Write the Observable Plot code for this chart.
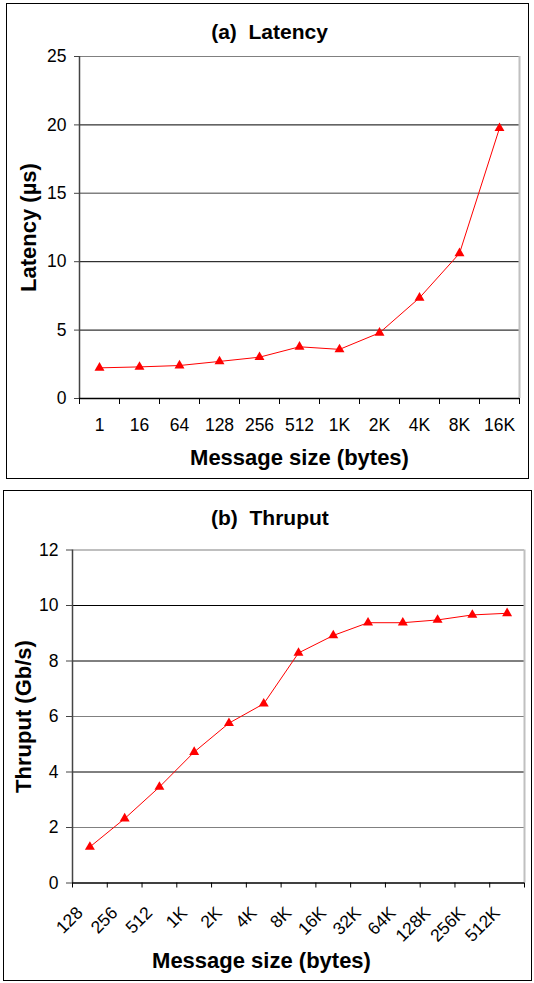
<!DOCTYPE html>
<html><head><meta charset="utf-8">
<script src="https://cdn.jsdelivr.net/npm/d3@7"></script>
<script src="https://cdn.jsdelivr.net/npm/@observablehq/plot@0.6"></script>
<style>
html,body{margin:0;padding:0;background:#fff;}
#page{position:relative;width:534px;height:983px;overflow:hidden;}
.box{position:absolute;border:1.5px solid #000;box-sizing:border-box;}
.panel{position:absolute;left:0;}
</style></head><body><div id="page">
<div class="box" style="left:6px;top:3px;width:523px;height:476px"></div>
<div class="box" style="left:3px;top:490px;width:529px;height:491px"></div>
<div class="panel" id="a" style="top:0px"></div>
<div class="panel" id="b" style="top:485px"></div>
</div>
<script>
// ---- data ----
const latencySizes = ["1","16","64","128","256","512","1K","2K","4K","8K","16K"];
const latencyValues = [2.24,2.31,2.41,2.71,3.02,3.78,3.59,4.8,7.36,10.61,19.76];
const latencyTicks = [0,5,10,15,20,25];

const thruputSizes = ["128","256","512","1K","2K","4K","8K","16K","32K","64K","128K","256K","512K"];
const thruputValues = [1.30,2.32,3.46,4.72,5.76,6.46,8.29,8.92,9.38,9.38,9.48,9.66,9.72];
const thruputTicks = [0,2,4,6,8,10,12];

const FONT = "'Liberation Sans', Arial, Helvetica, sans-serif";

function panel(cfg) {
  const n = cfg.sizes.length;
  const rows = cfg.sizes.map((s, i) => ({i, size: s, v: cfg.values[i]}));
  const bounds = d3.range(-0.5, n, 1);
  const ymax = cfg.ticks[cfg.ticks.length - 1];
  const blackGrid = cfg.ticks.filter(t => t > 0 && t < ymax && !cfg.grayGrid.includes(t));
  const grayGrid = cfg.ticks.filter(t => cfg.grayGrid.includes(t));
  return Plot.plot({
    width: 534, height: cfg.height,
    marginLeft: cfg.ml, marginRight: cfg.mr, marginTop: cfg.mt, marginBottom: cfg.mb,
    style: {fontFamily: FONT, fontSize: "17.5px", background: "transparent", color: "#000", overflow: "visible"},
    x: {type: "linear", domain: [-0.5, n - 0.5]},
    y: {type: "linear", domain: [0, ymax]},
    marks: [
      Plot.ruleY(blackGrid, {stroke: "#000", strokeWidth: 1}),
      Plot.ruleY(grayGrid, {stroke: "#808080", strokeWidth: cfg.grayWidth}),
      Plot.ruleY([ymax], {stroke: "#808080", strokeWidth: 1.2}),
      Plot.ruleX([n - 0.5], {stroke: "#c0c0c0", strokeWidth: 2}),
      Plot.ruleX([-0.5], {stroke: "#444", strokeWidth: 1.5}),
      Plot.ruleY([0], {stroke: "#000", strokeWidth: 1.5}),
      Plot.axisY(cfg.ticks, {tickSize: cfg.yTickSize, tickPadding: 8, fontSize: 17.5, label: null, stroke: "#444"}),
      Plot.axisX(bounds, {tickSize: cfg.xTickSize, tickFormat: () => "", label: null, stroke: "#000"}),
      cfg.rotate
        ? Plot.text(rows, {x: "i", text: "size", frameAnchor: "bottom", dx: -10, dy: 27, rotate: -45, textAnchor: "end", lineAnchor: "middle", fontSize: 17.5})
        : Plot.text(rows, {x: "i", text: "size", frameAnchor: "bottom", dy: 27, textAnchor: "middle", lineAnchor: "middle", fontSize: 17.5}),
      Plot.line(rows, {x: "i", y: "v", stroke: "#ff0000", strokeWidth: 1}),
      Plot.dot(rows, {x: "i", y: "v", symbol: "triangle", r: 3.7, fill: "#ff0000", stroke: "none"}),
      Plot.text([cfg.title], {text: d => d, frameAnchor: "top", dx: cfg.titleDx, dy: cfg.titleDy, textAnchor: "middle", lineAnchor: "middle", fontSize: 21, fontWeight: "bold"}),
      Plot.text([cfg.xLabel], {text: d => d, frameAnchor: "bottom", dx: cfg.xLabelDx, dy: cfg.xLabelDy, textAnchor: "middle", lineAnchor: "middle", fontSize: 22, fontWeight: "bold"}),
      Plot.text([cfg.yLabel], {text: d => d, frameAnchor: "left", dx: cfg.yLabelDx, rotate: -90, textAnchor: "middle", lineAnchor: "middle", fontSize: 22, fontWeight: "bold"})
    ]
  });
}

document.getElementById("a").append(panel({
  sizes: latencySizes, values: latencyValues, ticks: latencyTicks, grayGrid: [15], grayWidth: 1.5,
  height: 485, ml: 79, mr: 15, mt: 56, mb: 87, yTickSize: 5, xTickSize: 6, rotate: false,
  title: "(a)\u00a0 Latency", titleDx: -30, titleDy: -24,
  xLabel: "Message size (bytes)", xLabelDx: 0, xLabelDy: 59,
  yLabel: "Latency (\u00b5s)", yLabelDx: -50.5
}));

document.getElementById("b").append(panel({
  sizes: thruputSizes, values: thruputValues, ticks: thruputTicks, grayGrid: [2, 6], grayWidth: 1,
  height: 498, ml: 72, mr: 10, mt: 64.5, mb: 100.5, yTickSize: 6, xTickSize: 5, rotate: true,
  title: "(b)\u00a0 Thruput", titleDx: -28.6, titleDy: -31.5,
  xLabel: "Message size (bytes)", xLabelDx: -37, xLabelDy: 78,
  yLabel: "Thruput (Gb/s)", yLabelDx: -49
}));
</script>
</body></html>
